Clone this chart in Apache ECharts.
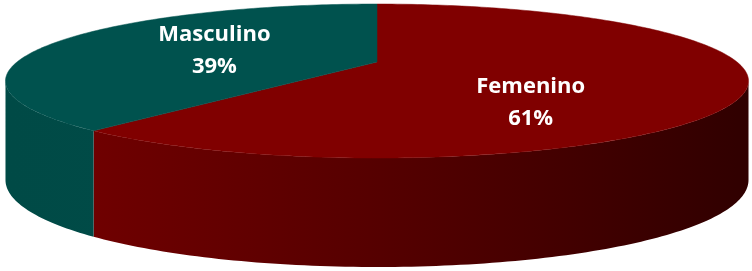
<!DOCTYPE html>
<html>
<head>
<meta charset="utf-8">
<script src="https://cdn.jsdelivr.net/npm/echarts@6/dist/echarts.min.js"></script>
<style>
  html, body { margin: 0; padding: 0; background: #fff; }
  #chart { width: 752px; height: 271px; }
</style>
</head>
<body>
<div id="chart"></div>
<script>
// slices, clockwise from the back of the disc
const categories = ['Femenino', 'Masculino']
const values = [61, 39]

const topColors = ['#800000', '#00524e']
const sideColors = [
  [{ offset: 0, color: '#770000' }, { offset: 0.55, color: '#520000' }, { offset: 1, color: '#300000' }],
  [{ offset: 0, color: '#004a46' }, { offset: 1, color: '#00504c' }]
]
// label spot: radius fraction and angle shift from the slice middle (Excel "best fit")
const labelSpots = [{ r: 0.62, shift: 33 }, { r: 0.5, shift: 0 }]

// tilted disc with a little perspective, tuned to the picture
const cx = 377, cy = 62
const scaleX = 360, scaleY = 72.3, persp = 0.247
const depth = 95.7, depthGrow = 13.3

const total = values.reduce((a, b) => a + b, 0)
const starts = []
values.reduce((acc, v, i) => { starts[i] = acc; return acc + v / total * 360 }, 0)

const visHalf = Math.acos(persp) * 180 / Math.PI
const visLo = 180 - visHalf, visHi = 180 + visHalf

function project(theta, r) {
  const t = theta * Math.PI / 180
  const x = r * Math.sin(t), z = -r * Math.cos(t)
  const w = 1 - persp * z
  return [cx + scaleX * x / w, cy + scaleY * z / w, z]
}

function arc(a0, a1, r) {
  const pts = []
  const n = Math.max(2, Math.ceil(Math.abs(a1 - a0)))
  for (let k = 0; k <= n; k++) pts.push(project(a0 + (a1 - a0) * k / n, r))
  return pts
}

function renderItem(params, api) {
  const i = params.dataIndex
  const a0 = starts[i]
  const a1 = a0 + api.value(0) / total * 360
  const children = []

  // side wall, only the part facing the viewer
  const s0 = Math.max(a0, visLo), s1 = Math.min(a1, visHi)
  if (s1 > s0) {
    const topEdge = arc(s0, s1, 1)
    const bottomEdge = topEdge.map(p => [p[0], p[1] + depth + depthGrow * p[2]]).reverse()
    children.push({
      type: 'polygon',
      z2: 1,
      shape: { points: topEdge.map(p => [p[0], p[1]]).concat(bottomEdge) },
      style: {
        fill: { type: 'linear', x: 5, y: 0, x2: 748, y2: 0, global: true, colorStops: sideColors[i] },
        stroke: null
      }
    })
  }

  // top face
  const c = project(0, 0)
  children.push({
    type: 'polygon',
    z2: 10,
    shape: { points: [[c[0], c[1]]].concat(arc(a0, a1, 1).map(p => [p[0], p[1]])) },
    style: { fill: topColors[i], stroke: topColors[i], lineWidth: 0.5 }
  })

  // label
  const spot = labelSpots[i]
  const lp = project((a0 + a1) / 2 + spot.shift, spot.r)
  children.push({
    type: 'text',
    z2: 20,
    x: lp[0],
    y: lp[1],
    style: {
      text: api.value(1) + '\n' + Math.round(api.value(0) / total * 100) + '%',
      fill: '#fff',
      font: 'bold 22px "Open Sans", sans-serif',
      lineHeight: 32,
      align: 'center',
      verticalAlign: 'middle'
    }
  })
  return { type: 'group', children: children }
}

const chart = echarts.init(document.getElementById('chart'))
chart.setOption({
  animation: false,
  series: [{
    type: 'custom',
    coordinateSystem: 'none',
    renderItem: renderItem,
    data: values.map((v, i) => ({ name: categories[i], value: [v, categories[i]] }))
  }]
})
</script>
</body>
</html>
